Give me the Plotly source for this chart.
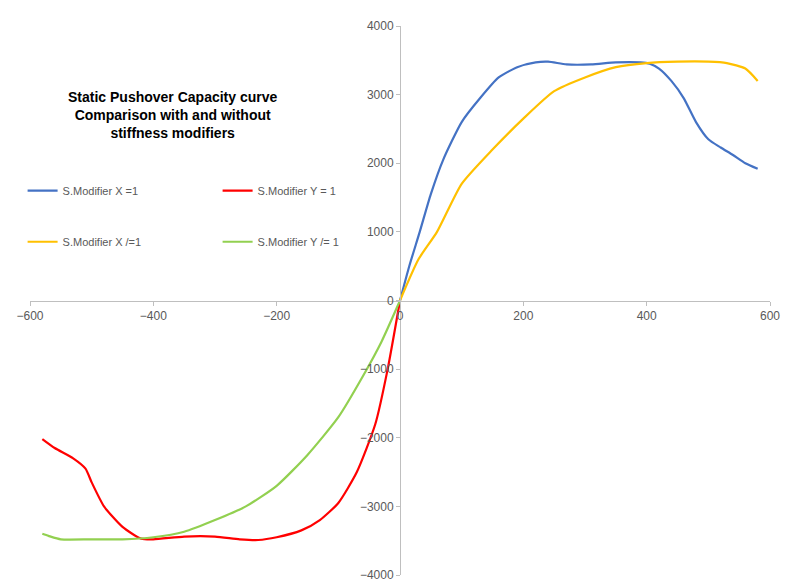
import plotly.graph_objects as go

# S.Modifier X = 1 (blue)
bx = [0, 15, 32, 50, 70, 100, 130, 160, 190, 220, 240, 270, 310, 350, 390, 405, 420, 440, 460, 480, 500, 520, 540, 560, 580]
by = [0, 500, 1000, 1550, 2050, 2600, 2950, 3250, 3400, 3470, 3480, 3440, 3440, 3470, 3470, 3450, 3380, 3200, 2950, 2600, 2350, 2230, 2120, 2000, 1920]
# S.Modifier X /= 1 (yellow)
yx = [0, 30, 60, 100, 150, 200, 250, 300, 350, 400, 450, 500, 530, 560, 580]
yy = [0, 600, 1000, 1700, 2200, 2650, 3050, 3250, 3400, 3460, 3480, 3480, 3460, 3380, 3200]
# S.Modifier Y = 1 (red)
rx = [0, -20, -40, -70, -100, -130, -160, -200, -230, -260, -300, -350, -400, -420, -450, -480, -500, -510, -530, -560, -580]
ry = [0, -1000, -1800, -2500, -2950, -3200, -3350, -3450, -3490, -3480, -3440, -3440, -3480, -3470, -3300, -3000, -2650, -2450, -2300, -2150, -2020]
# S.Modifier Y /= 1 (green)
gx = [0, -30, -60, -100, -150, -200, -250, -300, -350, -400, -450, -500, -550, -570, -580]
gy = [0, -600, -1100, -1700, -2250, -2700, -3000, -3200, -3370, -3450, -3480, -3480, -3480, -3430, -3400]

fig = go.Figure()
fig.add_trace(go.Scatter(x=bx, y=by, mode="lines", name="S.Modifier X =1",
                         line=dict(color="#4472C4", width=2.2, shape="spline", smoothing=0.6), legend="legend"))
fig.add_trace(go.Scatter(x=rx, y=ry, mode="lines", name="S.Modifier Y = 1",
                         line=dict(color="#FF0000", width=2.2, shape="spline", smoothing=0.6), legend="legend"))
fig.add_trace(go.Scatter(x=yx, y=yy, mode="lines", name="S.Modifier X /=1",
                         line=dict(color="#FFC000", width=2.2, shape="spline", smoothing=0.6), legend="legend2"))
fig.add_trace(go.Scatter(x=gx, y=gy, mode="lines", name="S.Modifier Y /= 1",
                         line=dict(color="#92D050", width=2.2, shape="spline", smoothing=0.6), legend="legend2"))

axis_font = dict(family="Liberation Sans", size=12, color="#595959")
leg = dict(orientation="h", xanchor="left", yanchor="middle", bgcolor="rgba(0,0,0,0)",
           font=dict(family="Liberation Sans", size=11, color="#595959"), entrywidth=150,
           itemwidth=30)
fig.update_layout(
    width=800, height=587, paper_bgcolor="white", plot_bgcolor="white",
    margin=dict(l=22, r=38, t=18, b=20, autoexpand=False),
    xaxis=dict(range=[-600, 600], dtick=200, showgrid=False, zeroline=False,
               anchor="free", position=0.5, showline=True, linecolor="#BFBFBF", automargin=False,
               ticks="outside", tickcolor="#BFBFBF", ticklen=4, tickfont=axis_font),
    yaxis=dict(range=[-4000, 4000], dtick=1000, showgrid=False, zeroline=False,
               anchor="free", position=0.5, showline=True, linecolor="#BFBFBF", automargin=False,
               ticks="outside", tickcolor="#BFBFBF", ticklen=4, tickfont=axis_font),
    legend=dict(leg, x=-0.01, y=0.70),
    legend2=dict(leg, x=-0.01, y=0.607),
    annotations=[dict(text="<b>Static Pushover Capacity curve<br>Comparison with and without<br>stiffness modifiers</b>",
                      xref="paper", yref="paper", x=0.193, y=0.838, xanchor="center", yanchor="middle",
                      showarrow=False, font=dict(family="Liberation Sans", size=14, color="black"),
                      align="center")],
)
fig.write_html("out.html")
